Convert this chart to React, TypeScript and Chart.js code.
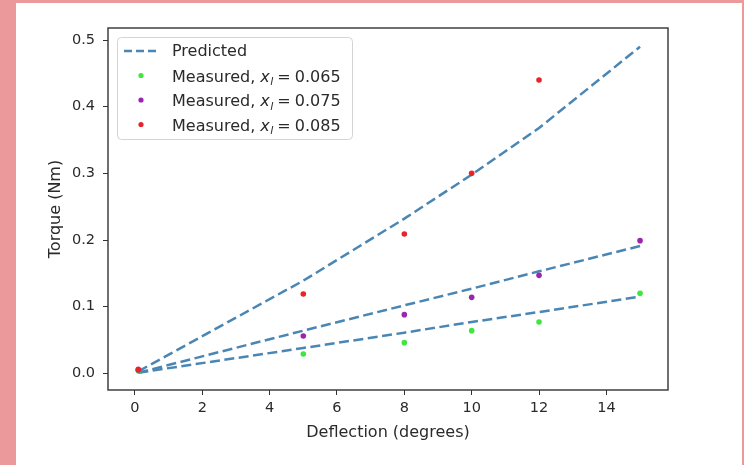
import React, { useEffect, useRef } from "react";
import { Chart, registerables } from "chart.js";

Chart.register(...registerables);

// ---- data ----
const measuredX = [0.1, 5, 8, 10, 12, 15];
const measuredX085 = [0.1, 5, 8, 10, 12];
const measured065 = [0.004, 0.029, 0.046, 0.064, 0.077, 0.12];
const measured075 = [0.005, 0.056, 0.088, 0.114, 0.147, 0.199];
const measured085 = [0.006, 0.119, 0.209, 0.3, 0.44];

const predictedX = [0.1, 5, 8, 10, 12, 15];
const predicted065 = [0.001, 0.038, 0.061, 0.077, 0.092, 0.115];
const predicted075 = [0.001, 0.064, 0.102, 0.127, 0.153, 0.191];
const predicted085 = [0.003, 0.139, 0.232, 0.298, 0.368, 0.49];

const xTicks = [0, 2, 4, 6, 8, 10, 12, 14];
const yTicks = [0, 0.1, 0.2, 0.3, 0.4, 0.5];
const seriesValues = ["0.065", "0.075", "0.085"];
const xTitle = "Deflection (degrees)";
const yTitle = "Torque (Nm)";
const predictedLabel = "Predicted";
const measuredLabel = "Measured, ";

// ---- styles ----
const FONT = '"DejaVu Sans", sans-serif';
const TEXT = "#2a2a2a";
const LINE = "#4a86b4";
const GREEN = "#3ee63e";
const PURPLE = "#9a26b0";
const RED = "#e8232b";
const PINK = "#eb999b";

const pts = (xs: number[], ys: number[]) => ys.map((y, i) => ({ x: xs[i], y }));

const backgroundPlugin = {
  id: "bgPlugin",
  beforeDraw(chart: any) {
    const ctx = chart.ctx;
    ctx.save();
    ctx.fillStyle = PINK;
    ctx.fillRect(0, 0, chart.width, chart.height);
    ctx.fillStyle = "#ffffff";
    ctx.fillRect(16, 3, chart.width - 18, chart.height - 3);
    ctx.restore();
  },
};

function roundRectPath(ctx: CanvasRenderingContext2D, x: number, y: number, w: number, h: number, r: number) {
  ctx.beginPath();
  ctx.moveTo(x + r, y);
  ctx.lineTo(x + w - r, y);
  ctx.arcTo(x + w, y, x + w, y + r, r);
  ctx.lineTo(x + w, y + h - r);
  ctx.arcTo(x + w, y + h, x + w - r, y + h, r);
  ctx.lineTo(x + r, y + h);
  ctx.arcTo(x, y + h, x, y + h - r, r);
  ctx.lineTo(x, y + r);
  ctx.arcTo(x, y, x + r, y, r);
  ctx.closePath();
}

const framePlugin = {
  id: "framePlugin",
  afterDraw(chart: any) {
    const ctx = chart.ctx as CanvasRenderingContext2D;
    const a = chart.chartArea;
    ctx.save();
    ctx.strokeStyle = "#333333";
    ctx.lineWidth = 1.4;
    ctx.strokeRect(a.left, a.top, a.right - a.left, a.bottom - a.top);

    // legend
    const bx = 117.5, by = 37.5, bw = 235, bh = 102;
    roundRectPath(ctx, bx, by, bw, bh, 4);
    ctx.fillStyle = "rgba(255,255,255,0.85)";
    ctx.fill();
    ctx.strokeStyle = "#d4d4d4";
    ctx.lineWidth = 1;
    ctx.stroke();

    ctx.setLineDash([8, 4]);
    ctx.strokeStyle = LINE;
    ctx.lineWidth = 2.5;
    ctx.beginPath();
    ctx.moveTo(124, 51);
    ctx.lineTo(159, 51);
    ctx.stroke();
    ctx.setLineDash([]);

    ctx.fillStyle = TEXT;
    ctx.textBaseline = "alphabetic";
    ctx.textAlign = "left";
    ctx.font = `16px ${FONT}`;
    ctx.fillText(predictedLabel, 172, 56);

    const colors = [GREEN, PURPLE, RED];
    const baselines = [81.5, 106, 130.5];
    seriesValues.forEach((v, i) => {
      const yb = baselines[i];
      ctx.fillStyle = colors[i];
      ctx.beginPath();
      ctx.arc(141, yb - 6, 2.6, 0, Math.PI * 2);
      ctx.fill();

      ctx.fillStyle = TEXT;
      let x = 172;
      ctx.font = `16px ${FONT}`;
      ctx.fillText(measuredLabel, x, yb);
      x += ctx.measureText(measuredLabel).width;
      ctx.font = `italic 16px ${FONT}`;
      ctx.fillText("x", x, yb);
      x += ctx.measureText("x").width;
      ctx.font = `italic 11px ${FONT}`;
      ctx.fillText("l", x + 0.5, yb + 3.5);
      x += ctx.measureText("l").width + 4.5;
      ctx.font = `16px ${FONT}`;
      ctx.fillText("=", x, yb);
      x += ctx.measureText("=").width + 4;
      ctx.fillText(v, x, yb);
    });
    ctx.restore();
  },
};

export default function App() {
  const ref = useRef<HTMLCanvasElement | null>(null);

  useEffect(() => {
    if (!ref.current) return;
    const tickFont = { family: FONT, size: 14.5 };
    const titleFont = { family: FONT, size: 16 };
    const chart = new Chart(ref.current, {
      type: "scatter",
      data: {
        datasets: [
          { label: "m085", data: pts(measuredX085, measured085), backgroundColor: RED, borderWidth: 0, pointRadius: 2.8, order: 0 },
          { label: "m075", data: pts(measuredX, measured075), backgroundColor: PURPLE, borderWidth: 0, pointRadius: 2.8, order: 0 },
          { label: "m065", data: pts(measuredX, measured065), backgroundColor: GREEN, borderWidth: 0, pointRadius: 2.8, order: 0 },
          { label: "p065", data: pts(predictedX, predicted065), showLine: true, borderColor: LINE, borderWidth: 2.5, borderDash: [10, 4.5], pointRadius: 0, order: 1 },
          { label: "p075", data: pts(predictedX, predicted075), showLine: true, borderColor: LINE, borderWidth: 2.5, borderDash: [10, 4.5], pointRadius: 0, order: 1 },
          { label: "p085", data: pts(predictedX, predicted085), showLine: true, borderColor: LINE, borderWidth: 2.5, borderDash: [10, 4.5], pointRadius: 0, order: 1 },
        ] as any,
      },
      options: {
        animation: false,
        responsive: false,
        devicePixelRatio: 1,
        layout: { padding: { left: 46, top: 28, right: 76, bottom: 23 } },
        plugins: { legend: { display: false }, tooltip: { enabled: false } },
        scales: {
          x: {
            type: "linear",
            min: -0.8,
            max: 15.83,
            afterBuildTicks: (s: any) => { s.ticks = xTicks.map((v) => ({ value: v })); },
            afterFit: (s: any) => { s.height = 52; },
            ticks: { font: tickFont, color: TEXT, padding: 5, maxRotation: 0, autoSkip: false, callback: (v: any) => String(v) },
            grid: { display: true, drawOnChartArea: false, drawTicks: true, tickLength: 5, color: "#333", lineWidth: 1 },
            border: { display: false },
            title: { display: true, text: xTitle, font: titleFont, color: TEXT, padding: 0 },
          },
          y: {
            type: "linear",
            min: -0.025,
            max: 0.518,
            afterBuildTicks: (s: any) => { s.ticks = yTicks.map((v) => ({ value: v })); },
            afterFit: (s: any) => { s.width = 62; },
            ticks: { font: tickFont, color: TEXT, padding: 8, autoSkip: false, callback: (v: any) => Number(v).toFixed(1) },
            grid: { display: true, drawOnChartArea: false, drawTicks: true, tickLength: 5, color: "#333", lineWidth: 1 },
            border: { display: false },
            title: { display: true, text: yTitle, font: titleFont, color: TEXT, padding: 0 },
          },
        },
      } as any,
      plugins: [backgroundPlugin, framePlugin],
    });
    return () => chart.destroy();
  }, []);

  return (
    <div style={{ position: "fixed", left: 0, top: 0, width: 744, height: 465 }}>
      <canvas ref={ref} width={744} height={465} style={{ display: "block", width: 744, height: 465 }} />
    </div>
  );
}
